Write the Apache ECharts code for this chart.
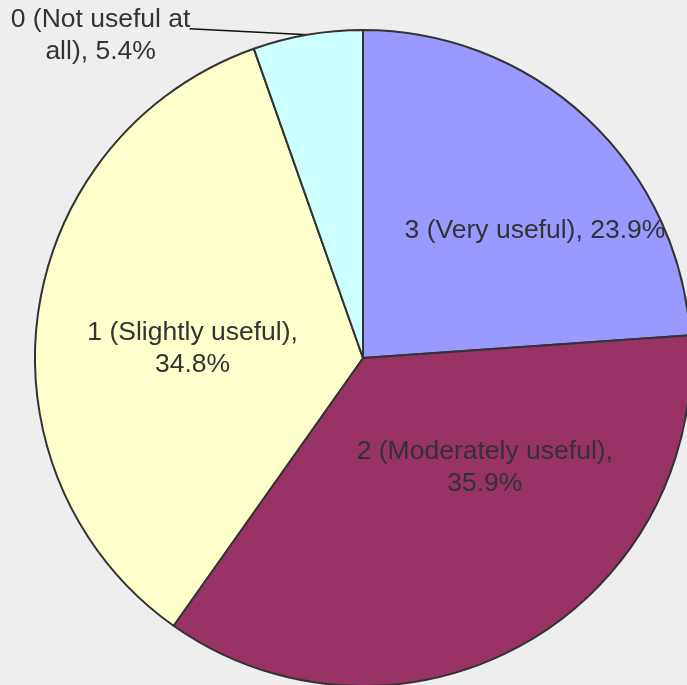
<!DOCTYPE html>
<html>
<head>
<meta charset="utf-8">
<script src="https://cdn.jsdelivr.net/npm/echarts@6/dist/echarts.min.js"></script>
<style>
  html, body { margin: 0; padding: 0; background: #eeeeee; }
  #chart { width: 687px; height: 685px; }
</style>
</head>
<body>
<div id="chart"></div>
<script>
// slices clockwise from 12 o'clock
const categories = ['3 (Very useful)', '2 (Moderately useful)', '1 (Slightly useful)', '0 (Not useful at all)']
const percents = [23.9, 35.9, 34.8, 5.4]
const labelTexts = [
  '3 (Very useful), 23.9%',
  '2 (Moderately useful),\n35.9%',
  '1 (Slightly useful),\n34.8%',
  '0 (Not useful at\nall), 5.4%'
]
const colors = ['#9999ff', '#993366', '#ffffcc', '#ccffff']

// nudges for the labels
const labelShift = [[58, -5], [40, -36], [-5, 14], [-89, 7]]

const chart = echarts.init(document.getElementById('chart'))

const seriesData = categories.map((name, i) => {
  const item = {
    name: name,
    value: percents[i],
    itemStyle: { color: colors[i] }
  }
  if (i === 3) {
    item.label = { position: 'outside', overflow: 'none', width: null }
    item.labelLine = { show: true, length: 6, length2: 117, lineStyle: { color: '#111', width: 1.5 } }
  }
  return item
})

chart.setOption({
  backgroundColor: '#eeeeee',
  animation: false,
  series: [
    {
      type: 'pie',
      center: [363, 358],
      radius: 328,
      startAngle: 90,
      clockwise: true,
      data: seriesData,
      itemStyle: { borderColor: '#333', borderWidth: 2 },
      label: {
        show: true,
        position: 'inside',
        formatter: (p) => labelTexts[p.dataIndex],
        fontFamily: 'Liberation Sans, Arial, sans-serif',
        fontSize: 26.5,
        lineHeight: 32,
        color: '#333',
        overflow: 'none'
      },
      labelLine: { show: false },
      labelLayout: (params) => {
        const s = labelShift[params.dataIndex]
        if (params.dataIndex === 3 && params.labelLinePoints) {
          // straight leader from the rim, text centred left of its end
          const pts = params.labelLinePoints
          const end = pts[pts.length - 1]
          return {
            x: end[0] + s[0],
            y: end[1] + s[1],
            align: 'center',
            verticalAlign: 'middle',
            labelLinePoints: [pts[0], end]
          }
        }
        return { dx: s[0], dy: s[1] }
      },
      emphasis: { disabled: true }
    }
  ]
})
</script>
</body>
</html>
